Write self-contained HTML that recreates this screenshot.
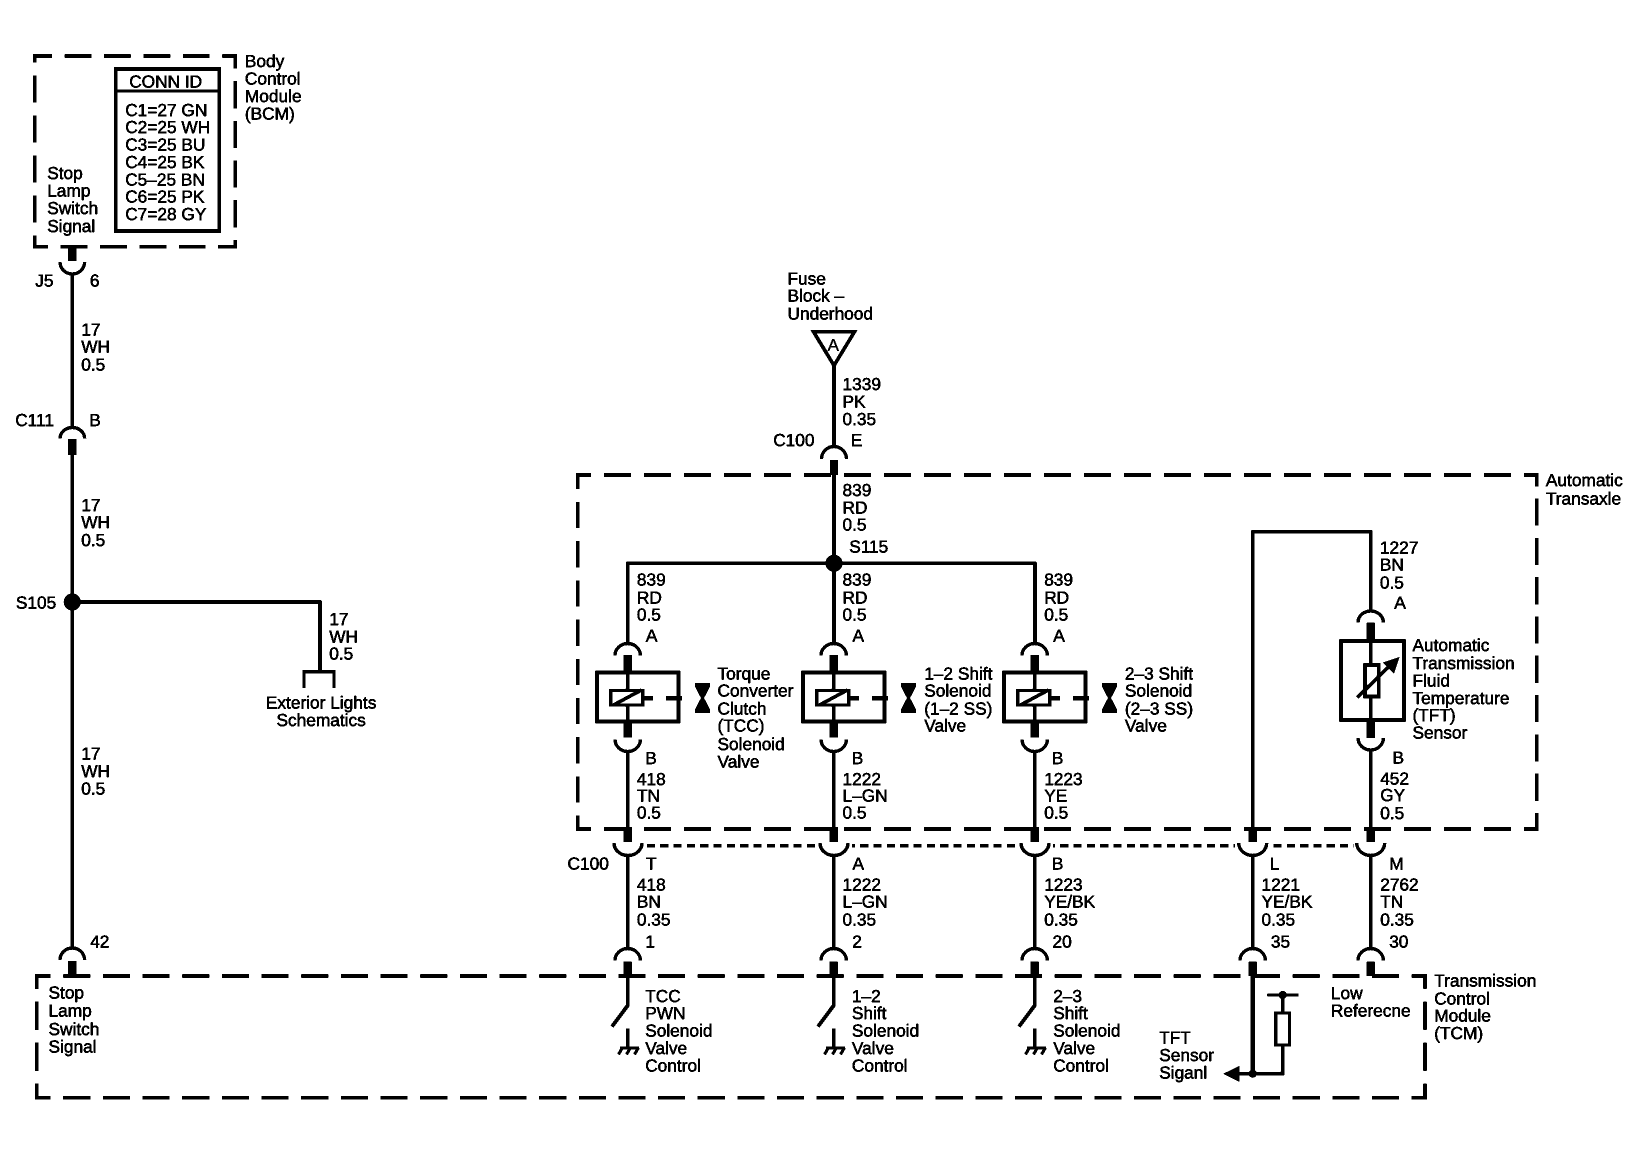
<!DOCTYPE html>
<html><head><meta charset="utf-8"><title>Transmission wiring schematic</title>
<style>
html,body{margin:0;padding:0;background:#fff}
svg{display:block}
text{font-family:"Liberation Sans",Arial,sans-serif;font-size:17.3px;fill:#000;stroke:#000;stroke-width:.45px;text-rendering:geometricPrecision}
.w{fill:none;stroke:#000;stroke-width:3.7;stroke-linejoin:round}
.d{fill:none;stroke:#000;stroke-width:3.5}
.s{fill:none;stroke:#000;stroke-width:8}
.a{fill:none;stroke:#000;stroke-width:3.2}
.b{fill:none;stroke:#000;stroke-width:3.5}
</style></head><body>
<svg width="1648" height="1156" viewBox="0 0 1648 1156" xmlns="http://www.w3.org/2000/svg">
<defs>
<filter id="t" x="0" y="0" width="100%" height="100%" color-interpolation-filters="sRGB"><feComponentTransfer><feFuncR type="discrete" tableValues="0 0 1"/><feFuncG type="discrete" tableValues="0 0 1"/><feFuncB type="discrete" tableValues="0 0 1"/></feComponentTransfer></filter>
<g id="sol">
<path class="s" d="M627.7 655V672M627.7 722V737.5"/>
<rect class="b" x="597" y="672.5" width="81.5" height="49"/>
<path class="w" d="M627.7 672V690M627.7 705V722"/>
<rect x="610.7" y="690.5" width="32" height="14.5" fill="#fff" stroke="#000" stroke-width="3.2"/>
<path class="b" d="M613.5 705L641.5 690"/>
<path fill="none" stroke="#000" stroke-width="4.5" d="M644 698.3H652.7M666 698.3H681.7"/>
<path d="M695 683H710V686.5L704 698L710 709.5V713H695V709.5L701 698L695 686.5Z"/>
<path class="a" d="M615 655.5A12.7 12 0 0 1 640.4 655.5"/>
<path class="a" d="M615 739.5A12.7 12 0 0 0 640.4 739.5"/>
<path class="w" d="M627.7 751V829"/>
</g>
<g id="sw">
<path class="a" d="M615 960.5A12.7 12 0 0 1 640.4 960.5"/>
<path class="s" d="M627.7 961.7V976"/>
<path class="w" d="M627.7 976V1005.5L612 1026.5"/>
<path class="w" d="M627.7 1028.5V1048"/>
<path fill="none" stroke="#000" stroke-width="3" d="M620 1048H639M622.5 1047.5L618.5 1054.5M630.5 1047.5L626.5 1054.5M638.5 1047.5L634.5 1054.5"/>
<path class="w" d="M627.7 856V949"/>
<path class="a" d="M614 843A14 12.5 0 0 0 642 843"/>
<path class="s" d="M627.7 827V842"/>
</g>
</defs>
<g filter="url(#t)">
<rect x="0" y="0" width="1648" height="1156" fill="#fff"/>

<!-- BCM box -->
<path class="d" d="M33 56H237" stroke-dasharray="26.7 12.7" stroke-dashoffset="7.7"/>
<path class="d" d="M33 246.7H237" stroke-dasharray="26.7 12.7" stroke-dashoffset="11.7"/>
<path class="d" d="M34.7 54.5V248" stroke-dasharray="27 13" stroke-dashoffset="19"/>
<path class="d" d="M235.3 54.5V248" stroke-dasharray="27 12.7" stroke-dashoffset="13"/>
<rect x="115.7" y="69" width="103.5" height="162" fill="none" stroke="#000" stroke-width="3.5"/>
<path fill="none" stroke="#000" stroke-width="2.5" d="M115.7 91H219"/>

<!-- Transaxle box -->
<path class="d" d="M576 475H1538.5" stroke-dasharray="27 13" stroke-dashoffset="12"/>
<path class="d" d="M576 829H1538.5" stroke-dasharray="27 13" stroke-dashoffset="12"/>
<path class="d" d="M577.7 830.7V473.3" stroke-dasharray="26 13.2" stroke-dashoffset="11"/>
<path class="d" d="M1536.7 473.3V830.7" stroke-dasharray="27 12.3" stroke-dashoffset="14"/>

<!-- C100 dotted line -->
<path class="d" d="M647 845.7H1354" stroke-dasharray="8 5.33" stroke-dashoffset="0"/>
<rect x="816" y="842" width="36" height="8" fill="#fff"/>
<rect x="1017" y="842" width="36" height="8" fill="#fff"/>
<rect x="1235" y="842" width="36" height="8" fill="#fff"/>

<!-- TCM box -->
<path class="d" d="M35 976H1426.7" stroke-dasharray="27 12.66" stroke-dashoffset="11.4"/>
<path class="d" d="M35 1097.7H1426.7" stroke-dasharray="27 12.66" stroke-dashoffset="11.4"/>
<path class="d" d="M36.7 974.3V1099.4" stroke-dasharray="28 13" stroke-dashoffset="13.5"/>
<path class="d" d="M1425 974.3V1099.4" stroke-dasharray="28 13" stroke-dashoffset="13.5"/>

<!-- Left wire -->
<path class="s" d="M72.3 246V261"/>
<path class="a" d="M60 262A12.3 12 0 0 0 84.6 262"/>
<path class="w" d="M72.3 274V428"/>
<path class="a" d="M60 438.5A12.3 11 0 0 1 84.6 438.5"/>
<path class="s" d="M72.3 439V455"/>
<path class="w" d="M72.3 455V948"/>
<circle cx="72.3" cy="602" r="8.5"/>
<path class="w" d="M72.3 602H320V671"/>
<path fill="none" stroke="#000" stroke-width="3" d="M304 688V671.7H334V688"/>
<path class="a" d="M60 960A12.3 12 0 0 1 84.6 960"/>
<path class="s" d="M72.3 961V976"/>

<!-- Fuse -->
<path fill="none" stroke="#000" stroke-width="3.5" stroke-linejoin="miter" d="M813.5 331.7H854.5L834 365.5Z"/>
<path class="w" d="M834 365V447"/>
<path class="a" d="M821.5 459A12.5 12.5 0 0 1 846.5 459"/>
<path class="s" d="M834 460V475"/>
<path class="w" d="M834 475V642"/>
<circle cx="834" cy="563.3" r="8.5"/>
<path class="w" d="M627.7 642V563.3H1035V642"/>

<!-- Solenoids -->
<use href="#sol"/>
<use href="#sol" transform="translate(206 0)"/>
<use href="#sol" transform="translate(407 0)"/>

<!-- Lower switches -->
<use href="#sw"/>
<use href="#sw" transform="translate(206 0)"/>
<use href="#sw" transform="translate(407 0)"/>

<!-- TFT wiring -->
<path class="w" d="M1252.7 829V531.7H1370.7V611"/>
<path class="a" d="M1358 622.5A12.7 11.5 0 0 1 1383.4 622.5"/>
<path class="s" d="M1370.7 622.7V641M1370.7 721V738"/>
<rect class="b" x="1341" y="641" width="63" height="79"/>
<path class="w" d="M1370.7 641V665M1370.7 696V721"/>
<rect x="1365" y="665" width="13.6" height="31.5" fill="#fff" stroke="#000" stroke-width="3.5"/>
<path class="b" d="M1357.3 697.5L1390 665.5"/>
<path d="M1399.5 657L1383 662.5L1394 673.5Z"/>
<path class="a" d="M1358 738A12.7 12 0 0 0 1383.4 738"/>
<path class="w" d="M1370.7 750V829"/>
<path class="s" d="M1252.7 827V842M1370.7 827V842"/>
<path class="a" d="M1238.7 843A14 12.5 0 0 0 1266.7 843"/>
<path class="a" d="M1356.7 843A14 12.5 0 0 0 1384.7 843"/>
<path class="w" d="M1252.7 856V949M1370.7 856V949"/>
<path class="a" d="M1240 960.5A12.7 12 0 0 1 1265.4 960.5"/>
<path class="a" d="M1358 960.5A12.7 12 0 0 1 1383.4 960.5"/>
<path class="s" d="M1252.7 961.7V976M1370.7 961.7V976"/>

<!-- TFT sensor signal inside TCM -->
<path fill="none" stroke="#000" stroke-width="4.6" d="M1252.7 976V1073.7"/>
<path class="w" d="M1237 1073.7H1282.7V1046"/>
<path d="M1223.3 1073.7L1239.3 1066V1081.7Z"/>
<circle cx="1252.7" cy="1073.7" r="4"/>
<rect x="1275.8" y="1013" width="13.8" height="32" fill="none" stroke="#000" stroke-width="3"/>
<path class="w" d="M1282.7 1012V995"/>
<path fill="none" stroke="#000" stroke-width="2.7" d="M1267.3 995H1298.3"/>
<circle cx="1282.7" cy="995" r="4"/>

<g transform="translate(-.8 0)">
<!-- BCM text -->
<text x="245.7" y="67">Body</text><text x="245.7" y="84.7">Control</text><text x="245.7" y="102">Module</text><text x="245.7" y="119.5">(BCM)</text>
<text x="130" y="87.3">CONN ID</text>
<text x="126" y="116">C1=27 GN</text><text x="126" y="133">C2=25 WH</text><text x="126" y="150.3">C3=25 BU</text><text x="126" y="168">C4=25 BK</text><text x="126" y="185.3">C5–25 BN</text><text x="126" y="202.7">C6=25 PK</text><text x="126" y="220">C7=28 GY</text>
<text x="48" y="179">Stop</text><text x="48" y="196.3">Lamp</text><text x="48" y="214">Switch</text><text x="48" y="232">Signal</text>
<text x="36" y="286.7">J5</text><text x="90.7" y="286.7">6</text>

<!-- Left labels -->
<text x="82" y="335.7">17</text><text x="82" y="352.7">WH</text><text x="82" y="370.7">0.5</text>
<text x="16" y="426">C111</text><text x="90" y="426">B</text>
<text x="82" y="511">17</text><text x="82" y="528">WH</text><text x="82" y="546">0.5</text>
<text x="16.7" y="608.3">S105</text>
<text x="330" y="625">17</text><text x="330" y="642.3">WH</text><text x="330" y="659.3">0.5</text>
<text x="266.7" y="708.3">Exterior Lights</text><text x="277.3" y="726">Schematics</text>
<text x="82" y="759.5">17</text><text x="82" y="776.8">WH</text><text x="82" y="794.5">0.5</text>
<text x="91" y="947.3">42</text>
<text x="49.3" y="998.7">Stop</text><text x="49.3" y="1016.4">Lamp</text><text x="49.3" y="1035">Switch</text><text x="49.3" y="1052.3">Signal</text>

<!-- Fuse labels -->
<text x="788.3" y="284.3">Fuse</text><text x="788.3" y="301.7">Block –</text><text x="788.3" y="319.3">Underhood</text>
<text x="828.3" y="351" style="stroke-width:.2px">A</text>
<text x="843.3" y="390">1339</text><text x="843.3" y="407.3">PK</text><text x="843.3" y="425">0.35</text>
<text x="774" y="446">C100</text><text x="851.7" y="446">E</text>
<text x="843.3" y="496">839</text><text x="843.3" y="513.3">RD</text><text x="843.3" y="530.7">0.5</text>
<text x="850" y="552.7">S115</text>

<!-- Automatic transaxle -->
<text x="1546.7" y="486">Automatic</text><text x="1546.7" y="504.3">Transaxle</text>

<text x="637.7" y="585.7">839</text><text x="637.7" y="603.3">RD</text><text x="637.7" y="620.3">0.5</text><text x="646.7" y="641.7">A</text>
<text x="843.3" y="585.7">839</text><text x="843.3" y="603.3">RD</text><text x="843.3" y="620.3">0.5</text><text x="853.3" y="641.7">A</text>
<text x="1045" y="585.7">839</text><text x="1045" y="603.3">RD</text><text x="1045" y="620.3">0.5</text><text x="1054" y="641.7">A</text>

<text x="718.3" y="679.3">Torque</text><text x="718.3" y="696.7">Converter</text><text x="718.3" y="714.7">Clutch</text><text x="718.3" y="731.7">(TCC)</text><text x="718.3" y="750">Solenoid</text><text x="718.3" y="767.3">Valve</text>
<text x="925" y="679.3">1–2 Shift</text><text x="925" y="696.7">Solenoid</text><text x="925" y="714.7">(1–2 SS)</text><text x="925" y="731.7">Valve</text>
<text x="1125.7" y="679.3">2–3 Shift</text><text x="1125.7" y="696.7">Solenoid</text><text x="1125.7" y="714.7">(2–3 SS)</text><text x="1125.7" y="731.7">Valve</text>

<text x="646" y="764">B</text><text x="637.7" y="785">418</text><text x="637.7" y="801.7">TN</text><text x="637.7" y="818.7">0.5</text>
<text x="852.5" y="764">B</text><text x="843.3" y="785">1222</text><text x="843.3" y="801.7">L–GN</text><text x="843.3" y="818.7">0.5</text>
<text x="1052.7" y="764">B</text><text x="1045" y="785">1223</text><text x="1045" y="801.7">YE</text><text x="1045" y="818.7">0.5</text>

<text x="1380.7" y="553.3">1227</text><text x="1380.7" y="570.7">BN</text><text x="1380.7" y="588.3">0.5</text><text x="1395" y="608.3">A</text>
<text x="1413.3" y="651">Automatic</text><text x="1413.3" y="669">Transmission</text><text x="1413.3" y="686.7">Fluid</text><text x="1413.3" y="704">Temperature</text><text x="1413.3" y="721">(TFT)</text><text x="1413.3" y="738.3">Sensor</text>
<text x="1393.3" y="763.3">B</text><text x="1381" y="784.3">452</text><text x="1381" y="801">GY</text><text x="1381" y="819">0.5</text>

<!-- C100 lower -->
<text x="568.3" y="869.3">C100</text>
<text x="646.7" y="869.3">T</text><text x="637.7" y="890.7">418</text><text x="637.7" y="907.7">BN</text><text x="637.7" y="925.3">0.35</text><text x="646" y="947.3">1</text>
<text x="853.3" y="869.3">A</text><text x="843.3" y="890.7">1222</text><text x="843.3" y="907.7">L–GN</text><text x="843.3" y="925.3">0.35</text><text x="853" y="947.3">2</text>
<text x="1052.7" y="869.3">B</text><text x="1045" y="890.7">1223</text><text x="1045" y="907.7">YE/BK</text><text x="1045" y="925.3">0.35</text><text x="1053.3" y="947.3">20</text>
<text x="1270.7" y="869.3">L</text><text x="1262.3" y="890.7">1221</text><text x="1262.3" y="907.7">YE/BK</text><text x="1262.3" y="925.3">0.35</text><text x="1271.7" y="947.3">35</text>
<text x="1390" y="869.3">M</text><text x="1381" y="890.7">2762</text><text x="1381" y="907.7">TN</text><text x="1381" y="925.3">0.35</text><text x="1390" y="947.3">30</text>

<!-- TCM labels -->
<text x="646" y="1002">TCC</text><text x="646" y="1019">PWN</text><text x="646" y="1036.7">Solenoid</text><text x="646" y="1054">Valve</text><text x="646" y="1071.7">Control</text>
<text x="852.7" y="1002">1–2</text><text x="852.7" y="1019">Shift</text><text x="852.7" y="1036.7">Solenoid</text><text x="852.7" y="1054">Valve</text><text x="852.7" y="1071.7">Control</text>
<text x="1054" y="1002">2–3</text><text x="1054" y="1019">Shift</text><text x="1054" y="1036.7">Solenoid</text><text x="1054" y="1054">Valve</text><text x="1054" y="1071.7">Control</text>
<text x="1160" y="1043.3">TFT</text><text x="1160" y="1061">Sensor</text><text x="1160" y="1078.7">Siganl</text>
<text x="1331.7" y="999">Low</text><text x="1331.7" y="1016.7">Referecne</text>
<text x="1435" y="986.7">Transmission</text><text x="1435" y="1004.3">Control</text><text x="1435" y="1021.7">Module</text><text x="1435" y="1039">(TCM)</text>
</g>
</g>
</svg>
</body></html>
